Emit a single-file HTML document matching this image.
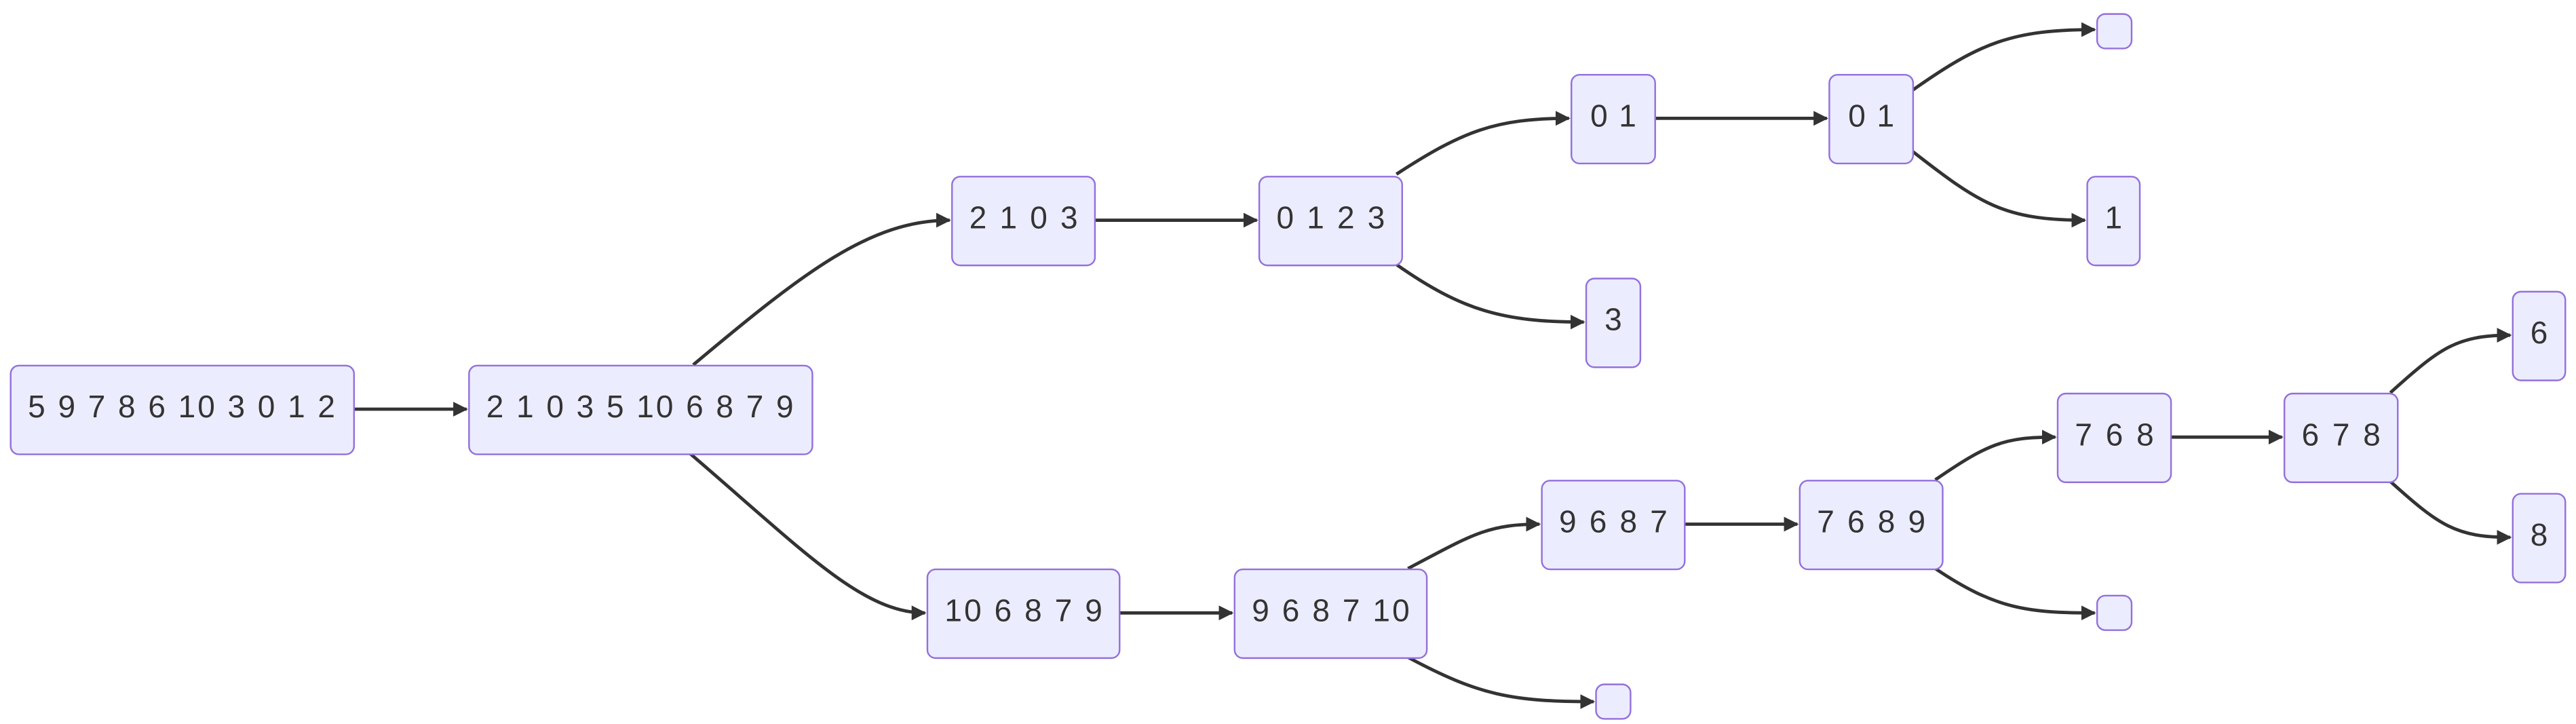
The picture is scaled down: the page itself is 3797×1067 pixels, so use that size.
<!DOCTYPE html>
<html><head><meta charset="utf-8"><style>html,body{margin:0;padding:0;background:#fff}svg{display:block}</style></head>
<body>
<svg width="3797" height="1067" viewBox="0 0 1568 440.6" xmlns="http://www.w3.org/2000/svg">
<defs><marker id="a" viewBox="0 0 10 10" refX="9" refY="5" markerWidth="9" markerHeight="9" markerUnits="userSpaceOnUse" orient="auto"><path d="M0,0L10,5L0,10z" fill="#333"/></marker></defs>
<g fill="none" stroke="#333" stroke-width="2" marker-end="url(#a)">
<path d="M215,249H284"/>
<path d="M666,134H765"/>
<path d="M1007,72H1112"/>
<path d="M681,373H750"/>
<path d="M1025,319H1094"/>
<path d="M1321,266H1389"/>
<path d="M422,222C490,165 530,134 578,134"/>
<path d="M420,276C490,336 525,373 563,373"/>
<path d="M850,106C890,80 910,72 955,72"/>
<path d="M850,161C890,189 915,196 964,196"/>
<path d="M1164,55C1205,26 1225,18 1275,18"/>
<path d="M1164,92C1205,124 1220,134 1269,134"/>
<path d="M857,346C895,326 905,319 937,319"/>
<path d="M857,400C900,423 920,427 970,427"/>
<path d="M1178,292C1210,270 1220,266 1251,266"/>
<path d="M1178,346C1215,371 1235,373 1275,373"/>
<path d="M1455,239C1485,212 1495,204 1528,204"/>
<path d="M1455,293C1485,320 1495,327 1528,327"/>
</g>
<g fill="#ECECFF" stroke="#9370DB" stroke-width="1">
<rect x="6.5" y="222.5" width="209" height="54" rx="5"/>
<rect x="285.5" y="222.5" width="209" height="54" rx="5"/>
<rect x="579.5" y="107.5" width="87" height="54" rx="5"/>
<rect x="766.5" y="107.5" width="87" height="54" rx="5"/>
<rect x="956.5" y="45.5" width="51" height="54" rx="5"/>
<rect x="1113.5" y="45.5" width="51" height="54" rx="5"/>
<rect x="1276.5" y="8.5" width="21" height="21" rx="5"/>
<rect x="1270.5" y="107.5" width="32" height="54" rx="5"/>
<rect x="965.5" y="169.5" width="33" height="54" rx="5"/>
<rect x="564.5" y="346.5" width="117" height="54" rx="5"/>
<rect x="751.5" y="346.5" width="117" height="54" rx="5"/>
<rect x="938.5" y="292.5" width="87" height="54" rx="5"/>
<rect x="1095.5" y="292.5" width="87" height="54" rx="5"/>
<rect x="971.5" y="416.5" width="21" height="21" rx="5"/>
<rect x="1252.5" y="239.5" width="69" height="54" rx="5"/>
<rect x="1390.5" y="239.5" width="69" height="54" rx="5"/>
<rect x="1276.5" y="362.5" width="21" height="21" rx="5"/>
<rect x="1529.5" y="177.5" width="32" height="54" rx="5"/>
<rect x="1529.5" y="300.5" width="32" height="54" rx="5"/>
</g>
<g font-family="Liberation Sans, sans-serif" font-size="19" fill="#333" text-anchor="middle">
<text x="110.5" y="254" textLength="187" lengthAdjust="spacing">5 9 7 8 6 10 3 0 1 2</text>
<text x="389.5" y="254" textLength="187" lengthAdjust="spacing">2 1 0 3 5 10 6 8 7 9</text>
<text x="623" y="139" textLength="66" lengthAdjust="spacing">2 1 0 3</text>
<text x="810" y="139" textLength="66" lengthAdjust="spacing">0 1 2 3</text>
<text x="982" y="77" textLength="28" lengthAdjust="spacing">0 1</text>
<text x="1139" y="77" textLength="28" lengthAdjust="spacing">0 1</text>
<text x="1286.5" y="139">1</text>
<text x="982" y="201">3</text>
<text x="623" y="378" textLength="96" lengthAdjust="spacing">10 6 8 7 9</text>
<text x="810" y="378" textLength="96" lengthAdjust="spacing">9 6 8 7 10</text>
<text x="982" y="324" textLength="66" lengthAdjust="spacing">9 6 8 7</text>
<text x="1139" y="324" textLength="66" lengthAdjust="spacing">7 6 8 9</text>
<text x="1287" y="271" textLength="48" lengthAdjust="spacing">7 6 8</text>
<text x="1425" y="271" textLength="48" lengthAdjust="spacing">6 7 8</text>
<text x="1545.5" y="209">6</text>
<text x="1545.5" y="332">8</text>
</g>
</svg>
</body></html>
